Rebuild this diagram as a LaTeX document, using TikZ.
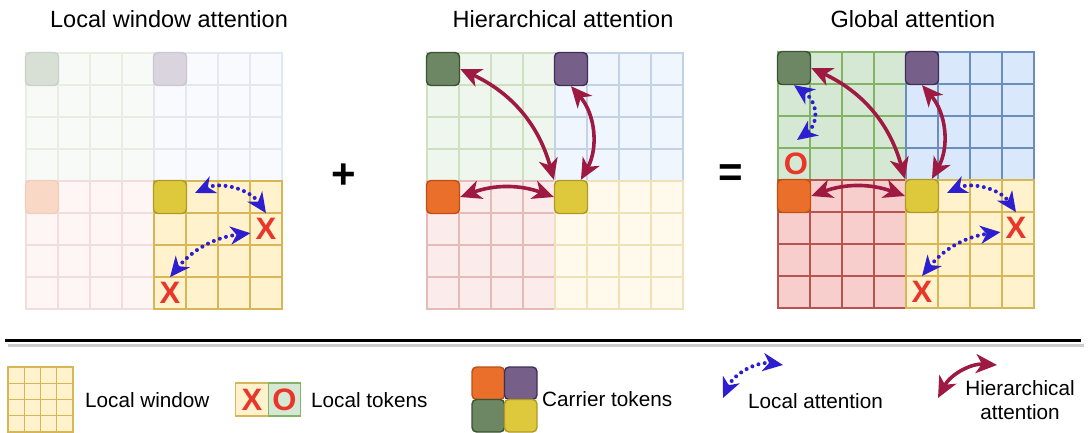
\documentclass[tikz,border=0pt]{standalone}
\usepackage{fontspec}
\setmainfont{Liberation Sans}
\usetikzlibrary{arrows.meta}

% window palette
\definecolor{gfill}{HTML}{D5E8D4}
\definecolor{gline}{HTML}{82B366}
\definecolor{bfill}{HTML}{DAE8FC}
\definecolor{bline}{HTML}{6C8EBF}
\definecolor{rfill}{HTML}{F8CECC}
\definecolor{rline}{HTML}{B85450}
\definecolor{yfill}{HTML}{FFF2CC}
\definecolor{yline}{HTML}{D6B656}
% carrier token palette
\definecolor{cgreen}{HTML}{6D8764}
\definecolor{cgreenl}{HTML}{3A5431}
\definecolor{cpurple}{HTML}{76608A}
\definecolor{cpurplel}{HTML}{432D57}
\definecolor{corange}{HTML}{EA6F2B}
\definecolor{corangel}{HTML}{C04F12}
\definecolor{cyellow}{HTML}{DEC83C}
\definecolor{cyellowl}{HTML}{B09A26}
% arrows and tokens
\definecolor{hiercol}{HTML}{9E1A42}
\definecolor{loccol}{HTML}{2D1ECF}
\definecolor{tokred}{HTML}{E8372A}

% one 4x4 local window: x, y, fill colour, line colour, strength (percent)
\newcommand\winquad[5]{%
  \fill[#3!#5!white] (#1,#2) rectangle ++(128,128);
  \foreach \gi in {0,32,...,128}{%
    \draw[#4!#5!white, line width=1.6pt, line cap=rect] ({#1+\gi},#2) -- ++(0,128);
    \draw[#4!#5!white, line width=1.6pt, line cap=rect] (#1,{#2+\gi}) -- ++(128,0);
  }}

\begin{document}
\begin{tikzpicture}[x=1pt,y=-1pt,
  title/.style={font=\fontsize{23.5}{28}\selectfont, anchor=base, inner sep=0pt},
  legtext/.style={font=\fontsize{20.7}{24}\selectfont, anchor=base west, inner sep=0pt},
  opsign/.style={font=\bfseries\fontsize{42}{44}\selectfont, anchor=base, inner sep=0pt},
  carrier/.style={minimum size=33pt, inner sep=0pt, rounded corners=4.5pt, line width=1.4pt},
  tok/.style={text=tokred, font=\bfseries\fontsize{31}{36}\selectfont, inner sep=5pt},
  tokbox/.style={text=tokred, font=\bfseries\fontsize{31}{36}\selectfont, inner sep=0pt,
    minimum width=32.5pt, minimum height=33pt, line width=1.4pt},
  hier/.style={draw=hiercol, line width=3.6pt,
    >={Stealth[length=21pt,width=19pt,inset=6pt]}, <->},
  loc/.style={draw=loccol, line width=4pt, line cap=round, dash pattern=on 0pt off 6.4pt,
    >={Stealth[length=20pt,width=18pt,inset=6pt]}, <->}
]
\fill[white] (0,0) rectangle (1089,433);
\useasboundingbox (0,0) rectangle (1089,433);

% headings
\node[title] (t1) at (169,28) {Local window attention};
\node[title] (t2) at (563,28) {Hierarchical attention};
\node[title] (t3) at (913,28) {Global attention};
\node[opsign] (plus) at (343.5,188) {+};
\node[opsign] (eq) at (731,186) {=};

% ---- local window attention
\begin{scope}[shift={(26,53)}]
  \winquad{0}{0}{gfill}{gline}{20}
  \winquad{128}{0}{bfill}{bline}{20}
  \winquad{0}{128}{rfill}{rline}{20}
  \winquad{128}{128}{yfill}{yline}{100}
  \node[carrier, fill=cgreen!27!white, draw=cgreenl!27!white] (c1g) at (16,16) {};
  \node[carrier, fill=cpurple!27!white, draw=cpurplel!27!white] (c1p) at (144,16) {};
  \node[carrier, fill=corange!27!white, draw=corangel!27!white] (c1o) at (16,144) {};
  \node[carrier, fill=cyellow, draw=cyellowl] (c1y) at (144,144) {};
  \node[tok] (x1a) at (240,176) {X};
  \node[tok] (x1b) at (144,240) {X};
  \coordinate (l1a) at (169,140);
  \draw[loc] (l1a) to[bend left=40] (x1a.north);
  \draw[loc] (x1b.north) to[bend left=22] (x1a.195);
\end{scope}

% ---- hierarchical attention
\begin{scope}[shift={(427,53)}]
  \winquad{0}{0}{gfill}{gline}{40}
  \winquad{128}{0}{bfill}{bline}{40}
  \winquad{0}{128}{rfill}{rline}{40}
  \winquad{128}{128}{yfill}{yline}{40}
  \node[carrier, fill=cgreen, draw=cgreenl] (c2g) at (16,16) {};
  \node[carrier, fill=cpurple, draw=cpurplel] (c2p) at (144,16) {};
  \node[carrier, fill=corange, draw=corangel] (c2o) at (16,144) {};
  \node[carrier, fill=cyellow, draw=cyellowl] (c2y) at (144,144) {};
  \draw[hier] (c2g.east) to[bend left=25] (c2y.north west);
  \draw[hier] (c2p.south) to[bend left=35] (c2y.60);
  \draw[hier] (c2o.east) to[bend left=20] (c2y.west);
\end{scope}

% ---- global attention
\begin{scope}[shift={(778,52)}]
  \winquad{0}{0}{gfill}{gline}{100}
  \winquad{128}{0}{bfill}{bline}{100}
  \winquad{0}{128}{rfill}{rline}{100}
  \winquad{128}{128}{yfill}{yline}{100}
  \node[carrier, fill=cgreen, draw=cgreenl] (c3g) at (16,16) {};
  \node[carrier, fill=cpurple, draw=cpurplel] (c3p) at (144,16) {};
  \node[carrier, fill=corange, draw=corangel] (c3o) at (16,144) {};
  \node[carrier, fill=cyellow, draw=cyellowl] (c3y) at (144,144) {};
  \node[tok] (x3a) at (238,176) {X};
  \node[tok] (x3b) at (144,240) {X};
  \node[tok] (o3) at (18,112) {O};
  \coordinate (l3a) at (169,141);
  \coordinate (o3t) at (19,88);
  \draw[hier] (c3g.east) to[bend left=25] (c3y.north west);
  \draw[hier] (c3p.south) to[bend left=35] (c3y.60);
  \draw[hier] (c3o.east) to[bend left=20] (c3y.west);
  \draw[loc] (l3a) to[bend left=40] (x3a.north);
  \draw[loc] (x3b.north) to[bend left=22] (x3a.195);
  \draw[loc] (c3g.south) .. controls (40,50) and (41,72) .. (o3t);
\end{scope}

% separator
\draw[line width=2.7pt, black!20] (8,345.7) -- (1084,345.7);
\draw[line width=3.3pt, black] (5,340.7) -- (1081,340.7);

% ---- legend
\fill[yfill] (8,367) rectangle (73,432);
\foreach \gi in {0,1,2,3,4}{%
  \draw[yline, line width=1.4pt, line cap=rect] ({8+16.25*\gi},367) -- ({8+16.25*\gi},432);
  \draw[yline, line width=1.4pt, line cap=rect] (8,{367+16.25*\gi}) -- (73,{367+16.25*\gi});
}
\node[legtext] (tw) at (85,407) {Local window};

\node[tokbox, fill=yfill, draw=yline] (lx) at (252,399.5) {X};
\node[tokbox, fill=gfill, draw=gline] (lo) at (284.5,399.5) {O};
\node[legtext] (tt) at (311,407) {Local tokens};

\node[carrier, minimum size=32.5pt, fill=corange, draw=corangel] (lco) at (488.25,383.25) {};
\node[carrier, minimum size=32.5pt, fill=cpurple, draw=cpurplel] (lcp) at (520.75,383.25) {};
\node[carrier, minimum size=32.5pt, fill=cgreen, draw=cgreenl] (lcg) at (488.25,415.75) {};
\node[carrier, minimum size=32.5pt, fill=cyellow, draw=cyellowl] (lcy) at (520.75,415.75) {};
\node[legtext] (tc) at (542,406) {Carrier tokens};

\coordinate (la1) at (723,398);
\coordinate (la2) at (783,365);
\draw[loc] (la1) to[bend left=37] (la2);
\node[legtext] (tl) at (748,408) {Local attention};

\coordinate (lh1) at (938,398);
\coordinate (lh2) at (997,365);
\draw[hier] (lh1) to[bend left=33] (lh2);
\node[legtext, anchor=base] (th1) at (1020,395) {Hierarchical};
\node[legtext, anchor=base] (th2) at (1020,419) {attention};
\end{tikzpicture}
\end{document}
